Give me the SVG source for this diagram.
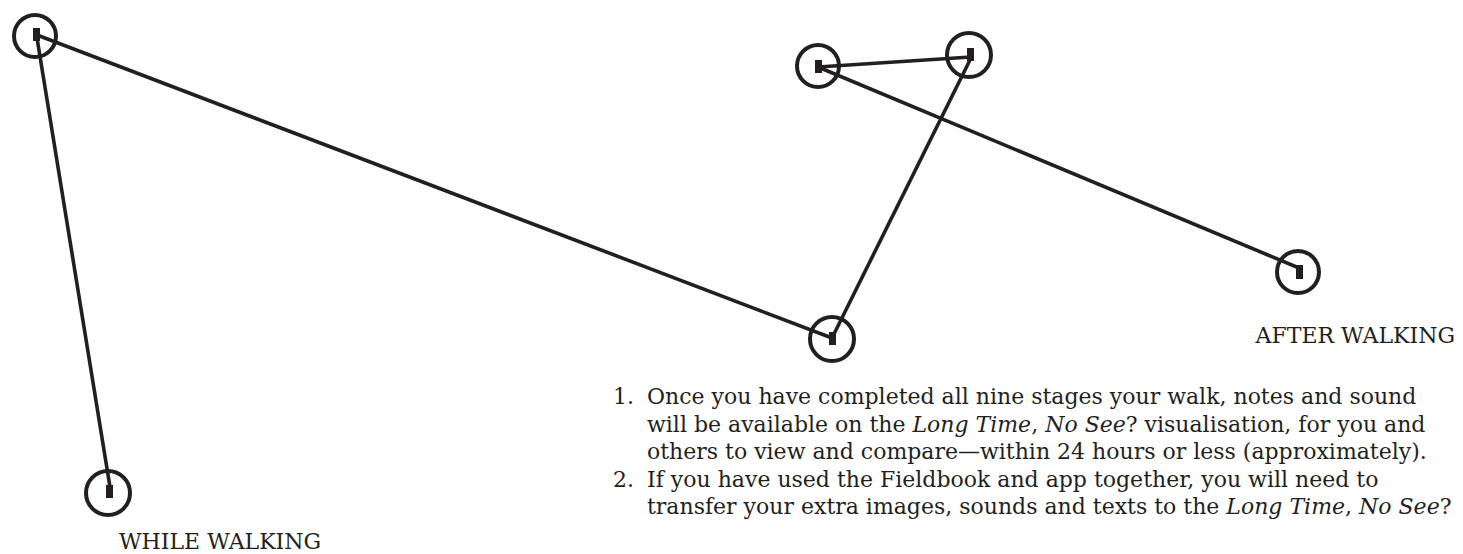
<svg xmlns="http://www.w3.org/2000/svg" width="1463" height="554" viewBox="0 0 1463 554">
<style>
.ring{fill:none;stroke:#231f20;stroke-width:4}
.mark{fill:#231f20}
.link{stroke:#231f20;stroke-width:3.6;fill:none;stroke-linecap:butt}
.txt{font-family:"DejaVu Serif","Liberation Serif",serif;font-size:22px;fill:#231f20}
.lbl{font-family:"DejaVu Serif","Liberation Serif",serif;font-size:22px;fill:#231f20}
.it{font-style:italic}
</style>
<rect width="1463" height="554" fill="#ffffff"/>
<g id="connectors">
<line class="link" x1="37" y1="35" x2="832" y2="338"/>
<line class="link" x1="37" y1="38" x2="110" y2="487"/>
<line class="link" x1="818" y1="67" x2="971" y2="57"/>
<line class="link" x1="818" y1="67" x2="1299" y2="268"/>
<line class="link" x1="971" y1="58" x2="833" y2="336"/>
</g>
<g id="node1"><circle class="ring" cx="35" cy="36" r="21"/><rect class="mark" x="33" y="28" width="7" height="13"/></g>
<g id="node2"><circle class="ring" cx="818" cy="66" r="21"/><rect class="mark" x="815" y="60" width="7" height="13"/></g>
<g id="node3"><circle class="ring" cx="969" cy="55" r="22"/><rect class="mark" x="967" y="48" width="7" height="13"/></g>
<g id="node4"><circle class="ring" cx="832" cy="339" r="22"/><rect class="mark" x="829" y="332" width="7" height="13"/></g>
<g id="node5"><circle class="ring" cx="1298" cy="272" r="21"/><rect class="mark" x="1296" y="265" width="7" height="14"/></g>
<g id="node6"><circle class="ring" cx="108" cy="493" r="22"/><rect class="mark" x="106" y="485" width="7" height="13"/></g>
<g id="labels">
<text class="lbl" x="1455" y="343" text-anchor="end">AFTER WALKING</text>
<text class="lbl" x="119" y="549">WHILE WALKING</text>
</g>
<g id="body">
<text class="txt" x="613" y="404">1.</text>
<text class="txt" x="647" y="404">Once you have completed all nine stages your walk, notes and sound</text>
<text class="txt" x="647" y="432">will be available on the <tspan class="it">Long Time</tspan>, <tspan class="it">No See</tspan>? visualisation, for you and</text>
<text class="txt" x="647" y="459">others to view and compare—within 24 hours or less (approximately).</text>
<text class="txt" x="613" y="487">2.</text>
<text class="txt" x="647" y="487">If you have used the Fieldbook and app together, you will need to</text>
<text class="txt" x="647" y="514">transfer your extra images, sounds and texts to the <tspan class="it">Long Time</tspan>, <tspan class="it">No See</tspan>?</text>
</g>
</svg>
